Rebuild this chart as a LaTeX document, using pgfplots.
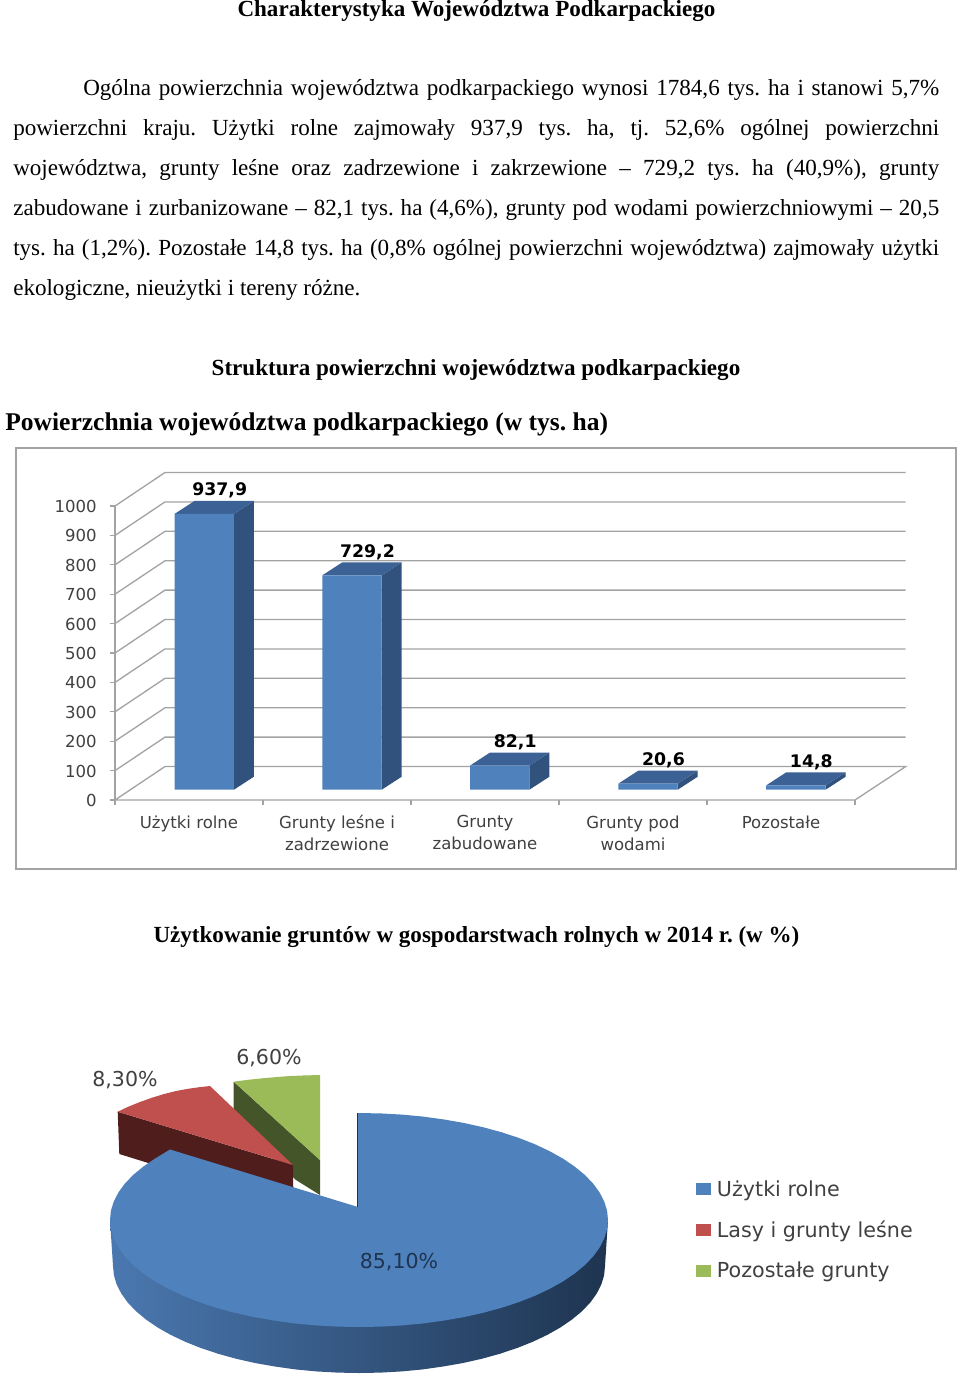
\documentclass[border=0pt]{standalone}
\usepackage{fontspec}
\usepackage{pgfplots}
\pgfplotsset{compat=1.18}
\setmainfont{Liberation Serif}
\newfontfamily\chartfont{DejaVu Sans}
\definecolor{barfront}{HTML}{4F81BD}
\definecolor{barside}{HTML}{31527D}
\definecolor{bartop}{HTML}{3B6195}
\definecolor{gridc}{HTML}{A3A3A3}
\definecolor{labelc}{HTML}{404040}
\definecolor{piered}{HTML}{C0504D}
\definecolor{piereds}{HTML}{4F1E1C}
\definecolor{piegreen}{HTML}{9BBB59}
\definecolor{piegreens}{HTML}{45552A}
\definecolor{sidea}{HTML}{4A78B0}
\definecolor{sideb}{HTML}{36557F}
\definecolor{sidec}{HTML}{1E3450}
\newcommand{\bodyfont}{\fontsize{17.3}{20}\selectfont\frenchspacing}
\newcommand{\bodyline}[4]{\node[anchor=base west,inner sep=0pt] at (#1,#2) {\bodyfont\makebox[\dimexpr #3pt*3/4\relax][s]{#4}};}
\begin{document}
\begin{tikzpicture}
	\path[use as bounding box] (0pt,0pt) rectangle (720pt,-1032.75pt);
	\begin{scope}[x=0.75pt,y=-0.75pt]
		\node[anchor=base,inner sep=0pt] at (476.5,16.5) {\bodyfont\bfseries Charakterystyka Województwa Podkarpackiego};
		\bodyline{83}{95.5}{856}{Ogólna powierzchnia województwa podkarpackiego wynosi 1784,6 tys. ha i stanowi 5,7\%}
		\bodyline{13}{135.5}{926}{powierzchni kraju. Użytki rolne zajmowały 937,9 tys. ha, tj. 52,6\% ogólnej powierzchni}
		\bodyline{13}{175.5}{926}{województwa, grunty leśne oraz zadrzewione i zakrzewione – 729,2 tys. ha (40,9\%), grunty}
		\bodyline{13}{215.5}{926}{zabudowane i zurbanizowane – 82,1 tys. ha (4,6\%), grunty pod wodami powierzchniowymi – 20,5}
		\bodyline{13}{255.5}{926}{tys. ha (1,2\%). Pozostałe 14,8 tys. ha (0,8\% ogólnej powierzchni województwa) zajmowały użytki}
		\node[anchor=base west,inner sep=0pt] at (13,295.5) {\bodyfont ekologiczne, nieużytki i tereny różne.};
		\node[anchor=base,inner sep=0pt] at (476,375) {\bodyfont\bfseries Struktura powierzchni województwa podkarpackiego};
		\node[anchor=base west,inner sep=0pt] at (5,430) {\fontsize{19.15}{22}\selectfont\frenchspacing\bfseries Powierzchnia województwa podkarpackiego (w tys. ha)};
		\node[anchor=base,inner sep=0pt] at (476.5,942) {\bodyfont\bfseries Użytkowanie gruntów w gospodarstwach rolnych w 2014 r. (w \%)};
		\draw[gridc,line width=1.6pt] (16,448) rectangle (956,869);
	\end{scope}

	% bar chart: x in picture pixels, bars stand on y=0, the floor is at -35
	\begin{axis}[
		at={(86.25pt,-600pt)},
		anchor=south west,
		x=0.75pt,
		y=0.2205pt,
		xmin=115,xmax=906,
		ymin=-35,ymax=1080,
		clip=false,
		axis line style={draw=none},
		tick align=outside,
		xtick pos=bottom,
		ytick pos=left,
		major tick length=3.75pt,
		tick style={gridc,line width=1pt},
		ytick={-35,65,165,265,365,465,565,665,765,865,965},
		yticklabels={0,100,200,300,400,500,600,700,800,900,1000},
		xtick={115,263,411,559,707,855},
		xticklabels={},
		extra x ticks={189,337,485,633,781},
		extra x tick labels={Użytki rolne,Grunty leśne i\\zadrzewione,Grunty\\zabudowane,Grunty pod\\wodami,Pozostałe},
		extra x tick style={major tick length=0pt},
		yticklabel style={font=\chartfont\fontsize{12.4}{16}\selectfont,text=labelc,anchor=east,xshift=-6.5pt,yshift=-0.4pt},
		xticklabel style={font=\chartfont\fontsize{12.4}{16.5}\selectfont,text=labelc,align=center,anchor=north,yshift=-8.2pt},
		]
		\addplot[gridc,line width=1pt] coordinates {(115,-35) (165,78.9) (905.7,78.9) (855,-35) (115,-35)};
		\addplot[gridc,line width=1pt] coordinates {(115,-35) (115,965)};
		\addplot[gridc,line width=1pt] coordinates {(115,65) (165,178.9) (905.7,178.9)};
		\addplot[gridc,line width=1pt] coordinates {(115,165) (165,278.9) (905.7,278.9)};
		\addplot[gridc,line width=1pt] coordinates {(115,265) (165,378.9) (905.7,378.9)};
		\addplot[gridc,line width=1pt] coordinates {(115,365) (165,478.9) (905.7,478.9)};
		\addplot[gridc,line width=1pt] coordinates {(115,465) (165,578.9) (905.7,578.9)};
		\addplot[gridc,line width=1pt] coordinates {(115,565) (165,678.9) (905.7,678.9)};
		\addplot[gridc,line width=1pt] coordinates {(115,665) (165,778.9) (905.7,778.9)};
		\addplot[gridc,line width=1pt] coordinates {(115,765) (165,878.9) (905.7,878.9)};
		\addplot[gridc,line width=1pt] coordinates {(115,865) (165,978.9) (905.7,978.9)};
		\addplot[gridc,line width=1pt] coordinates {(115,965) (165,1078.9) (905.7,1078.9)};
		% side faces
		\addplot[fill=barside,draw=none] coordinates {(233.9,0) (253.9,44.2) (253.9,982.1) (233.9,937.9)} -- cycle;
		\addplot[fill=barside,draw=none] coordinates {(381.7,0) (401.7,44.2) (401.7,773.4) (381.7,729.2)} -- cycle;
		\addplot[fill=barside,draw=none] coordinates {(529.4,0) (549.4,44.2) (549.4,126.3) (529.4,82.1)} -- cycle;
		\addplot[fill=barside,draw=none] coordinates {(677.7,0) (697.7,44.2) (697.7,64.8) (677.7,20.6)} -- cycle;
		\addplot[fill=barside,draw=none] coordinates {(825.6,0) (845.6,44.2) (845.6,59) (825.6,14.8)} -- cycle;
		% top faces
		\addplot[fill=bartop,draw=none] coordinates {(174.5,937.9) (194.5,982.1) (253.9,982.1) (233.9,937.9)} -- cycle;
		\addplot[fill=bartop,draw=none] coordinates {(322.3,729.2) (342.3,773.4) (401.7,773.4) (381.7,729.2)} -- cycle;
		\addplot[fill=bartop,draw=none] coordinates {(470,82.1) (490,126.3) (549.4,126.3) (529.4,82.1)} -- cycle;
		\addplot[fill=bartop,draw=none] coordinates {(618.3,20.6) (638.3,64.8) (697.7,64.8) (677.7,20.6)} -- cycle;
		\addplot[fill=bartop,draw=none] coordinates {(766.2,14.8) (786.2,59) (845.6,59) (825.6,14.8)} -- cycle;
		% front faces with the values
		\addplot[
			ybar,
			/pgf/bar width=44.55pt,
			/pgf/bar shift=0pt,
			fill=barfront,
			draw=none,
			point meta=explicit,
			nodes near coords={\pgfmathprintnumber[assume math mode=true,fixed,fixed zerofill,precision=1,use comma]{\pgfplotspointmeta}},
			every node near coord/.style={font=\chartfont\bfseries\fontsize{13}{15}\selectfont,text=black,anchor=center,xshift=11.6pt,yshift=17.4pt},
			] coordinates {
			(204.2,937.9) [937.9]
			(352,729.2) [729.2]
			(499.7,82.1) [82.1]
			(648,20.6) [20.6]
			(795.9,14.8) [14.8]
		};
	\end{axis}

	% pie: coordinates are picture pixels read off the ellipses
	\begin{axis}[
		at={(0pt,-1032.75pt)},
		anchor=south west,
		x=0.75pt,
		y=0.75pt,
		y dir=reverse,
		xmin=0,xmax=960,
		ymin=1030,ymax=1377,
		clip=false,
		hide axis,
		reverse legend,
		legend cell align=left,
		legend image code/.code={\fill[#1] (0pt,-4.5pt) rectangle (11.25pt,4.5pt); \path (13.5pt,0pt);},
		legend style={
			at={(axis cs:692,1175)},
			anchor=north west,
			draw=none,
			fill=none,
			font=\chartfont\fontsize{15.5}{18}\selectfont,
			text=labelc,
			row sep=13pt,
			},
		]
		% green slice
		\addplot[forget plot,fill=piegreens,draw=none] coordinates {(233.7,1081.7) (320,1160) (320,1195) (296,1180) (233.7,1120)} -- cycle;
		\addplot[fill=piegreen,draw=none] coordinates {(233.7,1081.7) (248,1079.8) (263,1078.2) (277,1077) (290,1076) (305,1075.4) (320,1075) (320,1160)} -- cycle;
		\addlegendentry{Pozostałe grunty}
		% red slice
		\addplot[forget plot,fill=piereds,draw=none] coordinates {(117.7,1111.7) (293,1165) (293.5,1208) (119.3,1154)} -- cycle;
		\addplot[fill=piered,draw=none] coordinates {(117.7,1111.7) (128,1106.8) (140,1102) (152,1097.7) (164,1094) (176,1091) (188,1088.8) (199,1087.2) (210,1086) (293,1165)} -- cycle;
		\addlegendentry{Lasy i grunty leśne}
		% blue slice, side wall first
		\addplot[forget plot,draw=none,left color=sidea,middle color=sideb,right color=sidec] coordinates {
			(110,1220) (113,1266) (113.9,1275.3) (116.7,1284.6) (121.4,1293.7) (127.8,1302.6) (136,1311.2)
			(146,1319.5) (157.5,1327.4) (170.6,1334.8) (185.1,1341.7) (200.9,1348) (217.9,1353.7)
			(236,1358.7) (255,1363) (274.9,1366.5) (295.3,1369.4) (316.3,1371.4) (337.6,1372.6)
			(359,1373) (380.4,1372.6) (401.7,1371.4) (422.7,1369.4) (443.1,1366.5) (463,1363)
			(482,1358.7) (500.1,1353.7) (517.1,1348) (532.9,1341.7) (547.4,1334.8) (560.5,1327.4)
			(572,1319.5) (582,1311.2) (590.2,1302.6) (596.6,1293.7) (601.3,1284.6) (604.1,1275.3)
			(605,1266) (608,1220)
		} -- cycle;
		\addplot[fill=barfront,draw=none] coordinates {
			(357,1113) (380.7,1113.4) (402.2,1114.6) (423.4,1116.6) (444.2,1119.5) (464.2,1123)
			(483.5,1127.3) (501.8,1132.3) (519.1,1138) (535.1,1144.3) (549.7,1151.2) (563,1158.6)
			(574.6,1166.5) (584.7,1174.8) (593,1183.4) (599.5,1192.3) (604.2,1201.4) (607.1,1210.7)
			(608,1220) (607.1,1229.3) (604.2,1238.6) (599.5,1247.7) (593,1256.6) (584.7,1265.2)
			(574.6,1273.5) (563,1281.4) (549.7,1288.8) (535.1,1295.7) (519.1,1302) (501.8,1307.7)
			(483.5,1312.7) (464.2,1317) (444.2,1320.5) (423.4,1323.4) (402.2,1325.4) (380.7,1326.6)
			(359,1327) (337.3,1326.6) (315.8,1325.4) (294.6,1323.4) (273.8,1320.5) (253.8,1317)
			(234.5,1312.7) (216.2,1307.7) (198.9,1302) (182.9,1295.7) (168.3,1288.8) (155,1281.4)
			(143.4,1273.5) (133.3,1265.2) (125,1256.6) (118.5,1247.7) (113.8,1238.6) (110.9,1229.3)
			(110,1220) (110.9,1210.7) (113.8,1201.4) (118.5,1192.3) (125,1183.4) (133.3,1174.8)
			(143.4,1166.5) (155,1158.6) (170,1149.5) (357,1206.7)
		} -- cycle;
		\addlegendentry{Użytki rolne}
		\addplot[forget plot,sidec,line width=0.5pt] coordinates {(357,1113) (357,1206.7)};
		\node[font=\chartfont\fontsize{15.4}{18}\selectfont,text=labelc] at (axis cs:125,1080) {8,30\%};
		\node[font=\chartfont\fontsize{15.4}{18}\selectfont,text=labelc] at (axis cs:269,1058) {6,60\%};
		\node[font=\chartfont\fontsize{15.4}{18}\selectfont,text=sidec] at (axis cs:399,1262) {85,10\%};
	\end{axis}
\end{tikzpicture}
\end{document}
